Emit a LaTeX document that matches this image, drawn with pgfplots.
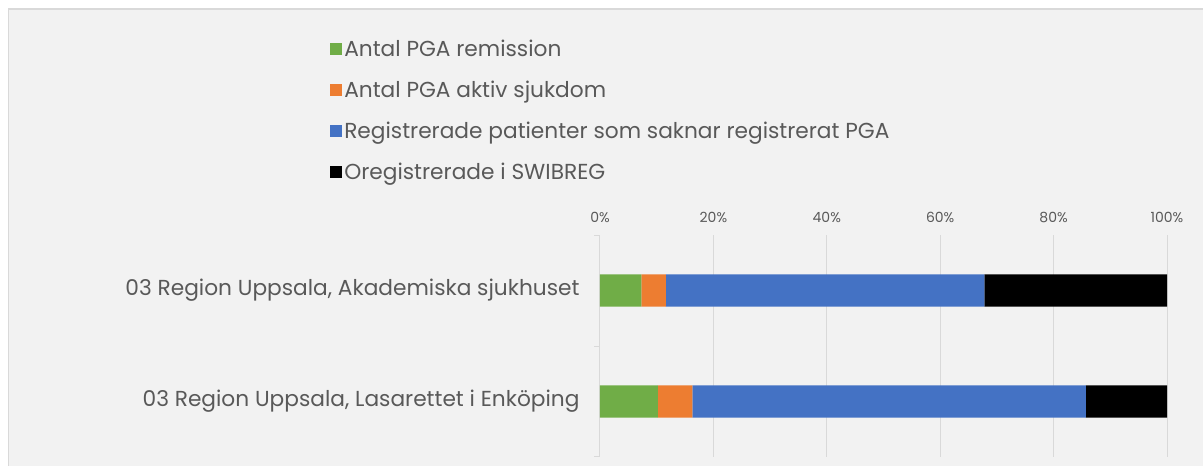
\documentclass[border=0pt]{standalone}
\usepackage{pgfplots}
\pgfplotsset{compat=1.18}
\usepackage{fontspec}
\setmainfont{Poppins}
\definecolor{bg}{HTML}{F2F2F2}
\definecolor{frame}{HTML}{D9D9D9}
\definecolor{txt}{HTML}{595959}
\definecolor{cgreen}{HTML}{70AD47}
\definecolor{corange}{HTML}{ED7D31}
\definecolor{cblue}{HTML}{4472C4}
\begin{document}
\begin{tikzpicture}[x=1pt,y=1pt]
\useasboundingbox (0,0) rectangle (1203,466);
\fill[white] (0,0) rectangle (1203,466);
\filldraw[fill=bg,draw=frame,line width=1.5pt] (8.5,457) rectangle (1230,-30);
\begin{axis}[
  at={(600pt,9pt)}, anchor=south west, scale only axis,
  width=567pt, height=222pt,
  xbar stacked, bar width=0.29,
  xmin=0, xmax=100, ymin=-0.5, ymax=1.5,
  axis x line*=top, axis y line*=left,
  x axis line style={draw=none},
  y axis line style={draw=frame,line width=1pt},
  xtick={0,20,...,100},
  xticklabel={\pgfmathprintnumber{\tick}\%},
  /pgf/number format/assume math mode=true,
  xticklabel style={font=\fontsize{14}{16}\selectfont, text=txt, yshift=9pt},
  xmajorgrids, grid style={draw=frame,line width=1pt},
  xtick style={draw=none},
  ytick={0,1},
  yticklabels={{03 Region Uppsala, Lasarettet i Enköping},{03 Region Uppsala, Akademiska sjukhuset}},
  yticklabel style={font=\fontsize{21.7}{26}\selectfont, text=txt, xshift=-17pt},
  major tick length=0pt,
  minor ytick={-0.5,0.5,1.5}, minor tick length=6pt, tick align=outside,
  minor y tick style={draw=frame,line width=1pt},
  legend cell align=left,
  legend style={at={(-0.476,1.89)}, anchor=north west, draw=none, fill=none,
    font=\fontsize{21.7}{26}\selectfont, text=txt, row sep=19pt, inner sep=0pt},
  legend image code/.code={\fill[#1] (0pt,-6pt) rectangle (12pt,6pt);},
]
\addplot[fill=cgreen,draw=none] coordinates {(10.2,0) (7.3,1)};
\addplot[fill=corange,draw=none] coordinates {(6.1,0) (4.3,1)};
\addplot[fill=cblue,draw=none] coordinates {(69.4,0) (56.2,1)};
\addplot[fill=black,draw=none] coordinates {(14.3,0) (32.2,1)};
\legend{Antal PGA remission,Antal PGA aktiv sjukdom,Registrerade patienter som saknar registrerat PGA,Oregistrerade i SWIBREG}
\end{axis}
\end{tikzpicture}
\end{document}
